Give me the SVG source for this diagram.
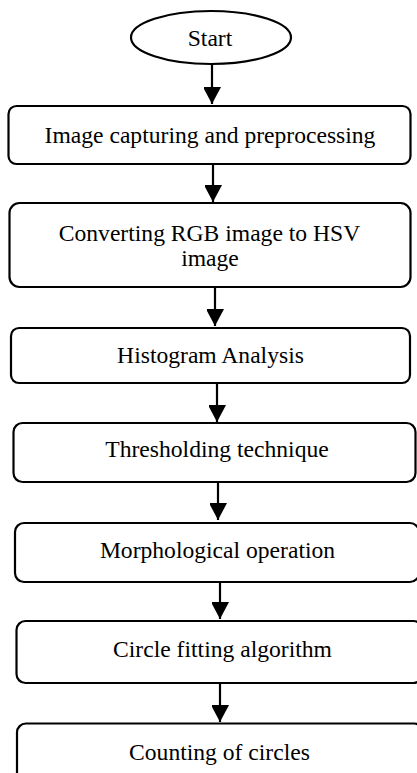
<svg xmlns="http://www.w3.org/2000/svg" width="417" height="773" viewBox="0 0 417 773">
  <defs>
    <marker id="arrow" markerUnits="userSpaceOnUse" markerWidth="18" markerHeight="17" refX="17" refY="9" orient="auto">
      <path d="M0,0 L17,9 L0,18 Z" fill="#000"/>
    </marker>
    <style>
      .box { fill: #fff; stroke: #000; stroke-width: 2.2; }
      .lbl { font-family: "Liberation Serif", "Times New Roman", serif; font-size: 23.6px; fill: #000; text-anchor: middle; }
      .conn { stroke: #000; stroke-width: 2.2; fill: none; marker-end: url(#arrow); }
    </style>
  </defs>
  <rect width="417" height="773" fill="#fff"/>

  <g id="connectors">
    <line class="conn" x1="212" y1="64" x2="212" y2="104"/>
    <line class="conn" x1="213" y1="164" x2="213" y2="202"/>
    <line class="conn" x1="215" y1="287" x2="215" y2="326"/>
    <line class="conn" x1="217" y1="383" x2="217" y2="422"/>
    <line class="conn" x1="218" y1="482" x2="218" y2="520"/>
    <line class="conn" x1="220" y1="582" x2="220" y2="619"/>
    <line class="conn" x1="220" y1="683" x2="220" y2="722"/>
  </g>

  <g id="start">
    <ellipse class="box" cx="211" cy="37.5" rx="80" ry="26.5"/>
    <text class="lbl" x="210" y="46">Start</text>
  </g>

  <g id="capture">
    <rect class="box" x="8.5" y="106" width="402" height="58" rx="8"/>
    <text class="lbl" x="210" y="143">Image capturing and preprocessing</text>
  </g>

  <g id="convert">
    <rect class="box" x="9.5" y="203" width="401" height="84" rx="10"/>
    <text class="lbl" x="209.5" y="241">Converting RGB image to HSV</text>
    <text class="lbl" x="210" y="266">image</text>
  </g>

  <g id="histogram">
    <rect class="box" x="11" y="328" width="399" height="55" rx="8"/>
    <text class="lbl" x="210.5" y="363">Histogram Analysis</text>
  </g>

  <g id="threshold">
    <rect class="box" x="13.5" y="423" width="402" height="59" rx="9"/>
    <text class="lbl" x="217" y="457">Thresholding technique</text>
  </g>

  <g id="morphology">
    <rect class="box" x="15" y="523" width="404" height="59" rx="9"/>
    <text class="lbl" x="217.5" y="558">Morphological operation</text>
  </g>

  <g id="circle-fit">
    <rect class="box" x="16.5" y="621" width="406" height="62" rx="9"/>
    <text class="lbl" x="222.5" y="657">Circle fitting algorithm</text>
  </g>

  <g id="count">
    <rect class="box" x="17" y="723.5" width="406" height="70" rx="9"/>
    <text class="lbl" x="219.5" y="760">Counting of circles</text>
  </g>
</svg>
